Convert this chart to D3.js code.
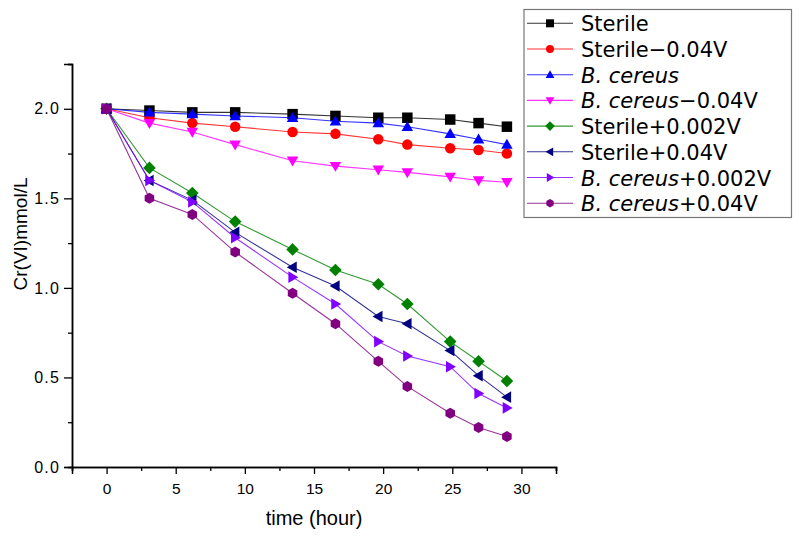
<!DOCTYPE html>
<html>
<head>
<meta charset="utf-8">
<script src="https://cdn.jsdelivr.net/npm/d3@7"></script>
<style>
  body { margin: 0; background: #fff; }
  svg { display: block; }
</style>
</head>
<body>
<svg id="chart" width="799" height="538"></svg>
<script>
const times = [0, 3.1, 6.2, 9.3, 13.45, 16.55, 19.65, 21.75, 24.85, 26.9, 28.95];
const sterile        = [2.00, 1.99, 1.98, 1.98, 1.97, 1.96, 1.95, 1.95, 1.94, 1.92, 1.90];
const sterileNeg004  = [2.00, 1.95, 1.92, 1.90, 1.87, 1.86, 1.83, 1.80, 1.78, 1.77, 1.75];
const cereus         = [2.00, 1.98, 1.97, 1.96, 1.95, 1.93, 1.92, 1.90, 1.86, 1.83, 1.80];
const cereusNeg004   = [2.00, 1.92, 1.87, 1.80, 1.71, 1.68, 1.66, 1.645, 1.62, 1.60, 1.59];
const sterilePos0002 = [2.00, 1.67, 1.53, 1.37, 1.215, 1.10, 1.02, 0.91, 0.70, 0.59, 0.48];
const sterilePos004  = [2.00, 1.60, 1.49, 1.31, 1.115, 1.01, 0.84, 0.80, 0.65, 0.51, 0.39];
const cereusPos0002  = [2.00, 1.60, 1.48, 1.28, 1.06, 0.91, 0.70, 0.62, 0.56, 0.41, 0.33];
const cereusPos004   = [2.00, 1.50, 1.41, 1.20, 0.97, 0.80, 0.59, 0.45, 0.30, 0.22, 0.17];

const seriesNames = [
  ["Sterile", ""],
  ["Sterile\u22120.04V", ""],
  ["", "B. cereus", ""],
  ["", "B. cereus", "\u22120.04V"],
  ["Sterile+0.002V", ""],
  ["Sterile+0.04V", ""],
  ["", "B. cereus", "+0.002V"],
  ["", "B. cereus", "+0.04V"]
];
const seriesValues = [sterile, sterileNeg004, cereus, cereusNeg004, sterilePos0002, sterilePos004, cereusPos0002, cereusPos004];
const seriesColors = ["#000000", "#ff0000", "#0000ff", "#ff00ff", "#008000", "#000080", "#8000ff", "#800080"];
const seriesShapes = ["square", "circle", "triUp", "triDown", "diamond", "triLeft", "triRight", "hexagon"];

const xTicks = [0, 5, 10, 15, 20, 25, 30];
const yTicks = [0.0, 0.5, 1.0, 1.5, 2.0];

const svg = d3.select("#chart");
const x = d3.scaleLinear().domain([-2.5, 32.5]).range([72, 556]);
const y = d3.scaleLinear().domain([0, 2.25]).range([467, 64]);

function shapePath(shape, s) {
  const h = s / 2;
  switch (shape) {
    case "square": return `M${-h},${-h}H${h}V${h}H${-h}Z`;
    case "circle": return d3.symbol(d3.symbolCircle, Math.PI * h * h)();
    case "triUp": return `M0,${-h * 1.1}L${h * 1.1},${h * 0.8}L${-h * 1.1},${h * 0.8}Z`;
    case "triDown": return `M0,${h * 1.1}L${h * 1.1},${-h * 0.8}L${-h * 1.1},${-h * 0.8}Z`;
    case "triLeft": return `M${-h * 1.1},0L${h * 0.8},${-h * 1.1}L${h * 0.8},${h * 1.1}Z`;
    case "triRight": return `M${h * 1.1},0L${-h * 0.8},${-h * 1.1}L${-h * 0.8},${h * 1.1}Z`;
    case "diamond": return `M0,${-h * 1.2}L${h * 1.2},0L0,${h * 1.2}L${-h * 1.2},0Z`;
    case "hexagon": {
      const r = h * 1.05;
      const pts = d3.range(6).map(i => {
        const a = Math.PI / 6 + i * Math.PI / 3;
        return [r * Math.cos(a), r * Math.sin(a)];
      });
      return "M" + pts.map(p => p.join(",")).join("L") + "Z";
    }
  }
}

// axes
const xAxisMinor = d3.axisBottom(x).tickValues(d3.range(-2.5, 33, 5)).tickSize(4).tickFormat("");
const xAxis = d3.axisBottom(x).tickValues(xTicks).tickSize(7).tickPadding(9).tickFormat(d3.format("d"));
const yAxisMinor = d3.axisLeft(y).tickValues(d3.range(0.25, 2.3, 0.5)).tickSize(4).tickFormat("");
const yAxis = d3.axisLeft(y).tickValues(yTicks).tickSize(8).tickPadding(4).tickFormat(d3.format(".1f"));

function styleAxis(g, fs) {
  g.select(".domain").attr("stroke", "#000").attr("stroke-width", 1.5);
  g.selectAll(".tick line").attr("stroke", "#000").attr("stroke-width", 1.3);
  g.selectAll("text").attr("font-family", "Liberation Sans, Arial, sans-serif").attr("font-size", fs).attr("fill", "#000");
}
svg.append("g").attr("transform", "translate(0,467)").call(xAxisMinor).call(styleAxis, 15);
svg.append("g").attr("transform", "translate(0,467)").call(xAxis).call(styleAxis, 15.5);
svg.append("g").attr("transform", "translate(72,0)").call(yAxisMinor).call(styleAxis, 15);
svg.append("g").attr("transform", "translate(72,0)").call(yAxis).call(styleAxis, 16)
  .selectAll("text").attr("letter-spacing", 1.2);

svg.append("text")
  .attr("x", 314).attr("y", 525)
  .attr("text-anchor", "middle")
  .attr("font-family", "Liberation Sans, Arial, sans-serif")
  .attr("font-size", 20)
  .text("time (hour)");
svg.append("text")
  .attr("transform", "translate(27,234) rotate(-90)")
  .attr("text-anchor", "middle")
  .attr("font-family", "Liberation Sans, Arial, sans-serif")
  .attr("font-size", 19)
  .text("Cr(VI)mmol/L");

// series
const line = d3.line().x((d, i) => x(times[i])).y(d => y(d));
seriesValues.forEach((vals, k) => {
  const g = svg.append("g");
  g.append("path").datum(vals)
    .attr("d", line)
    .attr("fill", "none")
    .attr("stroke", seriesColors[k])
    .attr("stroke-width", 1.1)
    .attr("stroke-opacity", 0.8);
  g.selectAll("path.m").data(vals).enter().append("path")
    .attr("class", "m")
    .attr("transform", (d, i) => `translate(${x(times[i])},${y(d)})`)
    .attr("d", shapePath(seriesShapes[k], 10.5))
    .attr("fill", seriesColors[k]);
});

// legend
const lg = svg.append("g");
lg.append("rect").attr("x", 524).attr("y", 9.5).attr("width", 267.5).attr("height", 208)
  .attr("fill", "#fff").attr("stroke", "#777").attr("stroke-width", 1.2);
seriesNames.forEach((parts, k) => {
  const cy = 23.3 + k * 25.7;
  lg.append("line").attr("x1", 527).attr("x2", 573).attr("y1", cy).attr("y2", cy)
    .attr("stroke", seriesColors[k]).attr("stroke-width", 1.1).attr("stroke-opacity", 0.8);
  lg.append("path").attr("transform", `translate(550,${cy})`)
    .attr("d", shapePath(seriesShapes[k], 8)).attr("fill", seriesColors[k]);
  const t = lg.append("text").attr("x", 581).attr("y", cy + 8)
    .attr("font-family", "DejaVu Sans, sans-serif").attr("font-size", 21).attr("fill", "#000");
  if (parts.length === 2) {
    t.append("tspan").text(parts[0]);
  } else {
    t.append("tspan").attr("font-style", "italic").text(parts[1]);
    if (parts[2]) t.append("tspan").text(parts[2]);
  }
});
</script>
</body>
</html>
